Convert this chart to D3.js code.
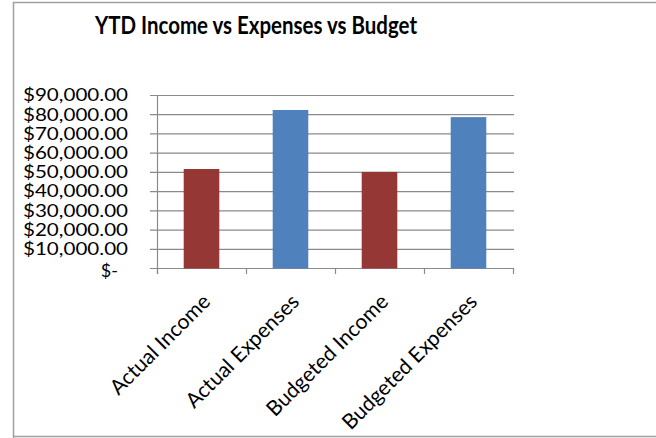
<!DOCTYPE html>
<html><head><meta charset="utf-8">
<script src="https://cdn.jsdelivr.net/npm/d3@7"></script>
<style>body{margin:0;background:#fff}svg{display:block}</style>
</head><body>
<script>
const categories = ["Actual Income","Actual Expenses","Budgeted Income","Budgeted Expenses"];
const values = [51500, 82200, 50000, 78500];
const barColors = ["#953735","#4F81BD","#953735","#4F81BD"];
const yTicks = [0,10000,20000,30000,40000,50000,60000,70000,80000,90000];
const title = "YTD Income vs Expenses vs Budget";

const W = 656, H = 438;
const svg = d3.select("body").append("svg").attr("width", W).attr("height", H);
const font = "Lato, 'Open Sans', sans-serif";

// chart border
svg.append("path").attr("d", `M13.5,${H+2} L13.5,2.5 L${W+2},2.5 M13.5,436.5 L${W+2},436.5`)
  .attr("fill","none").attr("stroke","#a0a0a0").attr("stroke-width",1.5);

const x0 = 157, x1 = 513, yTop = 95, yBot = 268;
const x = d3.scaleBand().domain(categories).range([x0, x1]).paddingInner(0.6).paddingOuter(0.3);
const y = d3.scaleLinear().domain([0, 90000]).range([yBot, yTop]);

// gridlines
svg.append("g").selectAll("line").data(yTicks).join("line")
  .attr("x1", 150).attr("x2", x1+1).attr("y1", d=>y(d)+0.5).attr("y2", d=>y(d)+0.5)
  .attr("stroke","#8a8a8a").attr("stroke-width",1.2);

// bars
svg.append("g").selectAll("rect").data(values).join("rect")
  .attr("x", (d,i)=>x(categories[i])).attr("width", x.bandwidth())
  .attr("y", d=>y(d)).attr("height", d=>yBot - y(d)+0.5)
  .attr("fill", (d,i)=>barColors[i]);

// y axis line
svg.append("line").attr("x1",x0+0.5).attr("x2",x0+0.5).attr("y1",yTop).attr("y2",yBot+6)
  .attr("stroke","#8a8a8a").attr("stroke-width",1.2);
// category ticks
const step = (x1-x0)/categories.length;
const catTicks = d3.range(categories.length+1).map(i=>x0+i*step);
svg.append("g").selectAll("line").data(catTicks).join("line")
  .attr("x1",d=>d+0.5).attr("x2",d=>d+0.5).attr("y1",yBot).attr("y2",yBot+6)
  .attr("stroke","#8a8a8a").attr("stroke-width",1.2);

// y labels
const fmt = d => d===0 ? "$-" : "$" + d3.format(",.2f")(d);
svg.append("g").selectAll("text").data(yTicks).join("text")
  .attr("x", d=> d===0 ? 118 : 128).attr("y", d=>y(d)+ (d===0?3:0)).attr("dy","0.35em")
  .attr("text-anchor","end").attr("font-family",font).attr("font-size",18)
  .attr("fill","#000")
  .each(function(d){ if(d!==0){ d3.select(this).attr("textLength",105).attr("lengthAdjust","spacingAndGlyphs"); } })
  .text(fmt);

// x labels
svg.append("g").selectAll("text").data(categories).join("text")
  .attr("transform", d=>`translate(${x(d)+x.bandwidth()/2+10},${yBot+35}) rotate(-45)`)
  .attr("text-anchor","end").attr("font-family",font).attr("font-size",21)
  .text(d=>d);

// title
svg.append("text").attr("x",256).attr("y",34).attr("text-anchor","middle")
  .attr("font-family",font).attr("font-weight","bold").attr("font-size",24)
  .attr("textLength",322).attr("lengthAdjust","spacingAndGlyphs")
  .text(title);
</script>
</body></html>
